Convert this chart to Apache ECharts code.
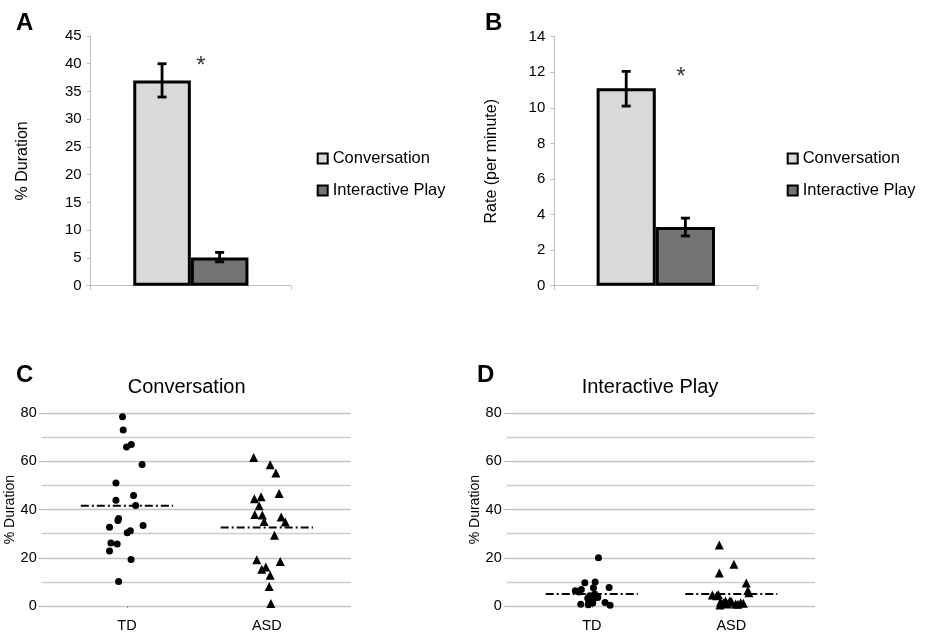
<!DOCTYPE html>
<html>
<head>
<meta charset="utf-8">
<script src="https://cdn.jsdelivr.net/npm/echarts@6/dist/echarts.min.js"></script>
<style>
html, body { margin: 0; padding: 0; background: #fff; }
#main { width: 930px; height: 636px; }
</style>
</head>
<body>
<div id="main"></div>
<script>
// A / B bar data
const barNames = ['Conversation', 'Interactive Play'];
const durationMean = [37, 5.1];
const durationLow = [34, 4.3];
const durationHigh = [40, 6.0];
const rateMean = [11.1, 3.3];
const rateLow = [10.1, 2.8];
const rateHigh = [12.05, 3.8];
const durationSig = 39.6;
const rateSig = 11.7;

// C / D scatter data (x = group position with jitter)
const groupLabels = ['TD', 'ASD'];
const convTdX = [0.968, 0.973, 0.997, 1.031, 1.108, 0.921, 1.047, 0.921, 1.062, 0.94, 0.935, 1.115, 0.875, 1.024, 1.002, 0.885, 0.93, 0.875, 1.029, 0.94];
const convTdY = [78.6, 73.1, 66.0, 67.0, 58.7, 51.1, 45.9, 43.9, 41.7, 36.3, 35.5, 33.4, 32.7, 31.2, 30.4, 26.2, 25.7, 22.8, 19.3, 10.2];
const convAsdX = [1.906, 2.024, 2.065, 2.088, 1.911, 1.959, 1.945, 1.914, 1.968, 1.981, 2.103, 2.132, 2.055, 1.928, 2.096, 1.964, 1.993, 2.024, 2.017, 2.029];
const convAsdY = [61.7, 58.6, 55.2, 46.7, 44.5, 45.4, 41.6, 38.0, 37.8, 35.1, 36.9, 34.9, 29.4, 19.2, 18.5, 15.3, 16.2, 12.8, 8.1, 1.0];
const playTdX = [1.048, 0.95, 1.024, 1.124, 0.882, 0.925, 1.012, 0.907, 0.986, 1.029, 0.971, 1.004, 0.979, 1.095, 1.007, 0.921, 0.975, 1.131, 1.021, 1.043];
const playTdY = [20.0, 9.7, 10.0, 7.7, 6.3, 6.8, 7.6, 5.8, 4.3, 3.6, 3.2, 2.7, 2.0, 1.5, 1.2, 0.7, 0.5, 0.3, 5.0, 3.5];
const playAsdX = [1.914, 2.019, 1.914, 2.107, 2.119, 1.864, 1.907, 1.923, 1.943, 1.99, 2.002, 2.031, 2.067, 2.086, 1.918, 1.971, 2.126, 1.895, 2.047, 1.959];
const playAsdY = [25.3, 17.3, 13.7, 9.5, 6.4, 4.6, 4.8, 1.8, 1.4, 2.2, 1.8, 0.8, 1.4, 1.1, 0.4, 0.8, 5.5, 4.3, 0.7, 2.1];
const convMeans = [41.6, 32.6];
const playMeans = [5.0, 5.0];

const font = '"Liberation Sans", Arial, Helvetica, sans-serif';
const gray = '#bdbdbd';
const barColors = ['#d9d9d9', '#737373'];

function zip(xs, ys) {
    return xs.map((x, i) => [x, ys[i]]);
}

// error bars drawn at the centre of each bar
function errorBarRender(gap) {
    return function (params, api) {
        const cat = api.value(0);
        const lo = api.coord([cat, api.value(1)]);
        const hi = api.coord([cat, api.value(2)]);
        const bw = api.size([1, 0])[0] * (1 - gap) / 2;
        const x = lo[0] + (api.value(3) === 0 ? -bw / 2 : bw / 2);
        const cap = 4.5;
        const style = { stroke: '#000', lineWidth: 2.8 };
        return {
            type: 'group',
            children: [
                { type: 'line', shape: { x1: x, y1: lo[1], x2: x, y2: hi[1] }, style: style },
                { type: 'line', shape: { x1: x - cap, y1: hi[1], x2: x + cap, y2: hi[1] }, style: style },
                { type: 'line', shape: { x1: x - cap, y1: lo[1], x2: x + cap, y2: lo[1] }, style: style }
            ]
        };
    };
}

function barAxisX(grid) {
    return {
        type: 'category', gridIndex: grid, data: [''],
        axisLine: { lineStyle: { color: gray, width: 1 } },
        axisTick: { show: true, length: 4, lineStyle: { color: gray } },
        axisLabel: { show: false }
    };
}

function barAxisY(grid, max, interval, name, gap) {
    return {
        type: 'value', gridIndex: grid, min: 0, max: max, interval: interval,
        name: name, nameLocation: 'middle', nameGap: gap,
        nameTextStyle: { fontFamily: font, fontSize: 16, color: '#000' },
        axisLine: { show: true, lineStyle: { color: gray, width: 1 } },
        axisTick: { show: true, length: 4, lineStyle: { color: gray } },
        axisLabel: { fontFamily: font, fontSize: 15, color: '#000', margin: 9 },
        splitLine: { show: false }
    };
}

function dotAxisX(grid) {
    return {
        type: 'value', gridIndex: grid, min: 0.39, max: 2.6,
        axisLine: { show: false },
        splitLine: { show: false },
        axisTick: { show: true, customValues: [1, 2], length: 2, lineStyle: { color: '#999' } },
        axisLabel: {
            customValues: [1, 2], fontFamily: font, fontSize: 14.5, color: '#000', margin: 12,
            formatter: v => groupLabels[Math.round(v) - 1]
        }
    };
}

function dotAxisY(grid) {
    return {
        type: 'value', gridIndex: grid, min: 0, max: 80, interval: 20,
        name: '% Duration', nameLocation: 'middle', nameGap: 21,
        nameTextStyle: { fontFamily: font, fontSize: 14, color: '#000' },
        axisLine: { show: false },
        axisTick: { show: true, length: 3, lineStyle: { color: '#aaa' } },
        minorTick: { show: false, splitNumber: 2 },
        axisLabel: { fontFamily: font, fontSize: 14.5, color: '#000', margin: 5 },
        splitLine: { show: true, lineStyle: { color: '#c4c4c4', width: 1.3 } },
        minorSplitLine: { show: true, lineStyle: { color: '#cdcdcd', width: 1.3 } }
    };
}

function barSeries(axis, values, gap) {
    return values.map((v, i) => ({
        name: barNames[i], type: 'bar', xAxisIndex: axis, yAxisIndex: axis,
        data: [v], barGap: '0%', barCategoryGap: (gap * 100) + '%',
        itemStyle: { color: barColors[i], borderColor: '#000', borderWidth: 3 }
    }));
}

function meanLine(axis, center, mean) {
    return {
        type: 'line', xAxisIndex: axis, yAxisIndex: axis, symbol: 'none', z: 5,
        data: [[center - 0.33, mean], [center + 0.33, mean]],
        lineStyle: { color: '#000', width: 2, type: [8, 3, 2, 3] }
    };
}

function dots(axis, xs, ys, symbol, size) {
    return {
        type: 'scatter', xAxisIndex: axis, yAxisIndex: axis, symbol: symbol, symbolSize: size,
        data: zip(xs, ys), itemStyle: { color: '#000', opacity: 1 }
    };
}

function sigMark(axis, value, dx) {
    return {
        type: 'scatter', xAxisIndex: axis, yAxisIndex: axis, symbolSize: 0, z: 6,
        data: [[0, value]],
        label: { show: true, position: 'inside', offset: [dx, 0], formatter: '*', fontFamily: font, fontSize: 24, color: '#000' }
    };
}

function legendAt(left) {
    return {
        data: barNames, orient: 'vertical', left: left, top: 150, padding: 0,
        icon: 'rect', itemWidth: 10, itemHeight: 10, itemGap: 15, selectedMode: false,
        itemStyle: { borderColor: '#000', borderWidth: 2 },
        textStyle: { fontFamily: font, fontSize: 16.5, color: '#000' }
    };
}

const titleStyle = { fontFamily: font, fontSize: 24, fontWeight: 'bold', color: '#000' };
const headStyle = { fontFamily: font, fontSize: 20, fontWeight: 'normal', color: '#000' };

const option = {
    animation: false,
    backgroundColor: '#fff',
    title: [
        { text: 'A', left: 16, top: 11, padding: 0, textStyle: titleStyle },
        { text: 'B', left: 485, top: 11, padding: 0, textStyle: titleStyle },
        { text: 'C', left: 16, top: 363, padding: 0, textStyle: titleStyle },
        { text: 'D', left: 477, top: 363, padding: 0, textStyle: titleStyle },
        { text: 'Conversation', left: 186.7, top: 377, textAlign: 'center', padding: 0, textStyle: headStyle },
        { text: 'Interactive Play', left: 650, top: 377, textAlign: 'center', padding: 0, textStyle: headStyle }
    ],
    legend: [legendAt(316.7), legendAt(786.7)],
    grid: [
        { left: 90.7, top: 36, width: 200.3, height: 249.7 },
        { left: 554.3, top: 36.7, width: 203, height: 249 },
        { left: 41.7, top: 413.3, width: 309, height: 192.7 },
        { left: 506.7, top: 413.3, width: 308.3, height: 192.7 }
    ],
    xAxis: [barAxisX(0), barAxisX(1), dotAxisX(2), dotAxisX(3)],
    yAxis: [
        barAxisY(0, 45, 5, '% Duration', 60),
        barAxisY(1, 14, 2, 'Rate (per minute)', 55),
        dotAxisY(2),
        dotAxisY(3)
    ],
    series: [
        ...barSeries(0, durationMean, 0.425),
        {
            type: 'custom', xAxisIndex: 0, yAxisIndex: 0, z: 5,
            renderItem: errorBarRender(0.425),
            data: [[0, durationLow[0], durationHigh[0], 0], [0, durationLow[1], durationHigh[1], 1]]
        },
        sigMark(0, durationSig, 10),
        ...barSeries(1, rateMean, 0.417),
        {
            type: 'custom', xAxisIndex: 1, yAxisIndex: 1, z: 5,
            renderItem: errorBarRender(0.417),
            data: [[0, rateLow[0], rateHigh[0], 0], [0, rateLow[1], rateHigh[1], 1]]
        },
        sigMark(1, rateSig, 25),
        dots(2, convTdX, convTdY, 'circle', 7),
        dots(2, convAsdX, convAsdY, 'triangle', 9),
        meanLine(2, 1, convMeans[0]),
        meanLine(2, 2, convMeans[1]),
        dots(3, playTdX, playTdY, 'circle', 7),
        dots(3, playAsdX, playAsdY, 'triangle', 9),
        meanLine(3, 1, playMeans[0]),
        meanLine(3, 2, playMeans[1])
    ]
};

const chart = echarts.init(document.getElementById('main'), null, { renderer: 'canvas' });
chart.setOption(option);
</script>
</body>
</html>
